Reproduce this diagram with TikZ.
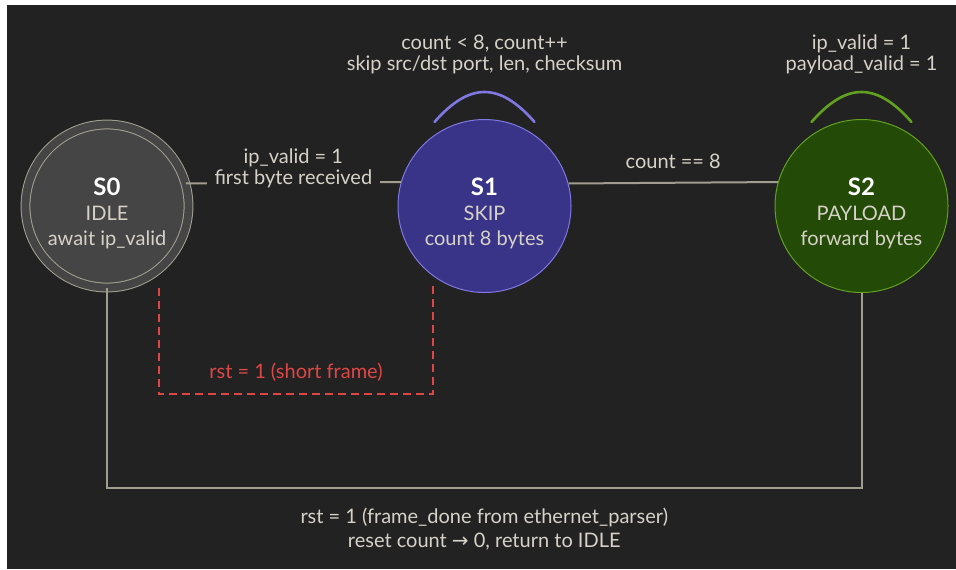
\documentclass[tikz,border=0pt]{standalone}
\usepackage{fontspec}
\setmainfont{Lato}
\newfontfamily\symfont{DejaVu Sans}
\usepackage{tikz}
\usetikzlibrary{calc}
\definecolor{canvas}{HTML}{222222}
\definecolor{idlefill}{HTML}{454545}
\definecolor{idleline}{HTML}{A3A193}
\definecolor{skipfill}{HTML}{3A3488}
\definecolor{skipline}{HTML}{8077E0}
\definecolor{payfill}{HTML}{234A06}
\definecolor{payline}{HTML}{62A01F}
\definecolor{wire}{HTML}{A09E90}
\definecolor{paper}{HTML}{D6D2C8}
\definecolor{alarm}{HTML}{DE4646}
\newcommand{\statetext}[3]{{\fontsize{12}{13}\selectfont\bfseries\color{white}#1}\\#2\\#3}

\begin{document}
\begin{tikzpicture}[x=0.5pt,y=-0.5pt,
  font=\fontsize{10}{10.5}\selectfont,
  state/.style={circle,inner sep=0pt,line width=0.5pt},
  stext/.style={align=center,text=paper,font=\fontsize{10}{12.5}\selectfont,yshift=-3.5pt},
  wire/.style={draw=wire,line width=1pt},
  selfloop/.style={line width=1.3pt,line cap=round},
  lbl/.style={align=center,text=paper}]
\fill[white] (0,0) rectangle (956,569);
\fill[canvas] (7,5) rectangle (956,569);
\useasboundingbox (0,0) rectangle (956,569);
\node[state,minimum size=81.5pt,fill=idlefill,draw=idleline,double=idlefill,
      double distance=3.9pt,label={[stext]center:\statetext{S0}{IDLE}{await ip\_valid}}]
  (S0) at (107,206) {};
\node[state,minimum size=86.5pt,fill=skipfill,draw=skipline,
      label={[stext]center:\statetext{S1}{SKIP}{count 8 bytes}}] (S1) at (484.5,206) {};
\node[state,minimum size=86.5pt,fill=payfill,draw=payline,
      label={[stext]center:\statetext{S2}{PAYLOAD}{forward bytes}}] (S2) at (861.5,206) {};
\coordinate (shortbot) at (0,394);
\coordinate (resetbot) at (0,488);
\draw[wire] (S0.16.4) -- node[lbl,fill=canvas,yshift=7pt,inner xsep=4pt,inner ysep=1pt]
  {ip\_valid = 1\\first byte received} (S1.164.5);
\draw[wire] (S1.15.5) -- node[lbl,above=3pt] {count == 8} (S2.164.5);
\draw[selfloop,skipline] ($(S1)+(-50,-84)$) .. controls +(35,-40) and +(-35,-40) ..
  node[lbl,above=5pt] {count < 8, count++\\skip src/dst port, len, checksum} ($(S1)+(50,-84)$);
\draw[selfloop,payline] ($(S2)+(-50,-84)$) .. controls +(35,-40) and +(-35,-40) ..
  node[lbl,above=5pt] {ip\_valid = 1\\payload\_valid = 1} ($(S2)+(50,-84)$);
\draw[alarm,line width=1pt,dash pattern=on 4pt off 2.5pt,shorten <=9pt,shorten >=3pt]
  (S0.-51.3) -- (S0.-51.3 |- shortbot) -| node[pos=0.25,above=2.5pt,text=alarm]
  {rst = 1 (short frame)} (S1.-126);
\draw[wire] (S0.south) -- (S0.south |- resetbot) -| node[lbl,pos=0.25,below=6pt,
  font=\fontsize{10}{12}\selectfont]
  {rst = 1 (frame\_done from ethernet\_parser)\\reset count {\symfont →} 0, return to IDLE} (S2.south);
\end{tikzpicture}
\end{document}
